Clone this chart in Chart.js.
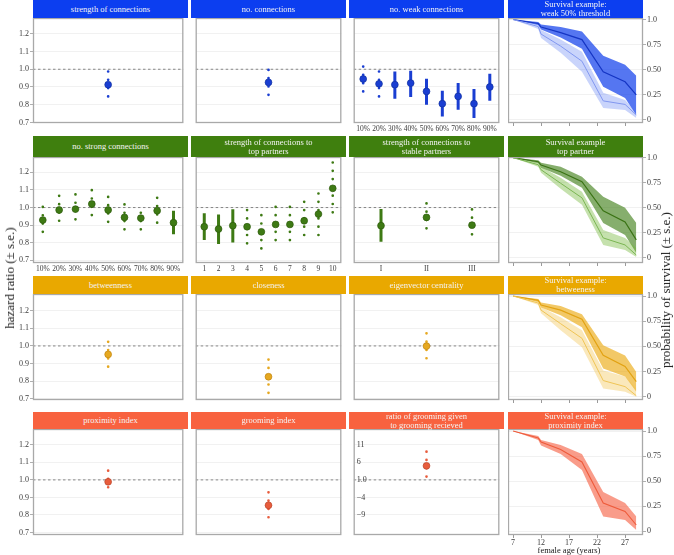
<!DOCTYPE html>
<html><head><meta charset="utf-8">
<script src="https://cdn.jsdelivr.net/npm/chart.js@4.4.0/dist/chart.umd.min.js"></script>
<style>
html,body{margin:0;padding:0;background:#fff;}
#fig{position:relative;width:674px;height:555px;overflow:hidden;font-family:'Liberation Serif','Times New Roman',serif;}
.strip{position:absolute;display:flex;align-items:center;justify-content:center;text-align:center;color:#f4f4f4;font-size:8.5px;line-height:9px;z-index:2;white-space:pre-line;}
.lab{position:absolute;white-space:nowrap;color:#1a1a1a;z-index:3;}
canvas{position:absolute;z-index:1;}
</style></head>
<body><div id="fig"></div>
<script>
// ================= DATA =================
// hazard ratio panels: estimate, lower / upper (± s.e.), solid (1) vs dotted (0) range
const strengthCats = ['']; const strengthEst = [0.913]; const strengthLo = [0.847]; const strengthHi = [0.988]; const strengthSolid = [0];
const connCats = [''];     const connEst = [0.926];     const connLo = [0.856];     const connHi = [0.998];     const connSolid = [0];
const weakCats = ['10%','20%','30%','40%','50%','60%','70%','80%','90%'];
const weakEst = [0.945,0.918,0.913,0.922,0.875,0.806,0.847,0.806,0.900];
const weakLo  = [0.875,0.847,0.834,0.843,0.800,0.734,0.772,0.725,0.823];
const weakHi  = [1.020,0.993,0.988,0.992,0.946,0.879,0.922,0.888,0.975];
const weakSolid = [0,0,1,1,1,1,1,1,1];

const strongCats = ['10%','20%','30%','40%','50%','60%','70%','80%','90%'];
const strongEst = [0.929,0.986,0.991,1.020,0.986,0.944,0.940,0.982,0.914];
const strongLo  = [0.862,0.925,0.933,0.957,0.919,0.876,0.876,0.914,0.848];
const strongHi  = [1.005,1.071,1.077,1.100,1.061,1.020,1.014,1.056,0.982];
const strongSolid = [0,0,0,0,0,0,0,0,1];

const topCats = ['1','2','3','4','5','6','7','8','9','10'];
const topEst = [0.891,0.878,0.897,0.891,0.862,0.904,0.904,0.925,0.963,1.109];
const topLo  = [0.815,0.793,0.802,0.797,0.768,0.815,0.815,0.844,0.844,0.973];
const topHi  = [0.967,0.961,0.990,0.986,0.957,1.005,1.005,1.033,1.084,1.260];
const topSolid = [1,1,1,0,0,0,0,0,0,0];

const stableCats = ['I','II','III'];
const stableEst = [0.897,0.944,0.900];
const stableLo  = [0.806,0.882,0.848];
const stableHi  = [0.991,1.027,0.990];
const stableSolid = [1,0,0];

const betwCats = ['']; const betwEst = [0.952]; const betwLo = [0.882]; const betwHi = [1.028]; const betwSolid = [0];
const closeCats = ['']; const closeEst = [0.825]; const closeLo = [0.734]; const closeHi = [0.924]; const closeSolid = [0];
const eigenCats = ['']; const eigenEst = [0.999]; const eigenLo = [0.930]; const eigenHi = [1.075]; const eigenSolid = [0];

const proxCats = ['']; const proxEst = [0.989]; const proxLo = [0.958]; const proxHi = [1.053]; const proxSolid = [0];
const groomCats = ['']; const groomEst = [0.855]; const groomLo = [0.787]; const groomHi = [0.930]; const groomSolid = [0];
const ratioCats = ['']; const ratioEst = [1.080]; const ratioLo = [1.019]; const ratioHi = [1.162]; const ratioSolid = [0];

// tick labels
const hazardTicks = [0.7,0.8,0.9,1.0,1.1,1.2];
const ratioTickValues = [0.8,0.9,1.0,1.1,1.2];
const ratioTickLabels = ['\u22129','\u22124','1.0','6','11'];
const survTicks = [0,0.25,0.5,0.75,1];
const survTickLabels = ['0','0.25','0.50','0.75','1.0'];
const ageTicks = [7,12,17,22,27];

// survival examples (female age in years)
const ages = [7, 11.5, 12, 15.5, 19.3, 23.1, 27, 29];
const weakSurvHigh      = [1.0,0.960,0.925,0.870,0.800,0.480,0.380,0.250];
const weakSurvHighUpper = [1.0,0.975,0.950,0.925,0.880,0.640,0.550,0.440];
const weakSurvHighLower = [1.0,0.945,0.900,0.820,0.710,0.330,0.220,0.050];
const weakSurvLow       = [1.0,0.930,0.855,0.735,0.585,0.190,0.155,0.050];
const weakSurvLowUpper  = [1.0,0.955,0.895,0.800,0.680,0.270,0.200,0.080];
const weakSurvLowLower  = [1.0,0.905,0.815,0.670,0.480,0.120,0.100,0.020];

const topSurvHigh      = [1.0,0.960,0.927,0.860,0.760,0.470,0.360,0.180];
const topSurvHighUpper = [1.0,0.975,0.950,0.910,0.810,0.610,0.500,0.350];
const topSurvHighLower = [1.0,0.945,0.900,0.820,0.700,0.350,0.230,0.050];
const topSurvLow       = [1.0,0.930,0.880,0.745,0.600,0.200,0.130,0.030];
const topSurvLowUpper  = [1.0,0.950,0.910,0.800,0.660,0.280,0.200,0.100];
const topSurvLowLower  = [1.0,0.910,0.850,0.690,0.530,0.130,0.080,0.010];

const betwSurvHigh      = [1.0,0.957,0.910,0.860,0.770,0.410,0.300,0.150];
const betwSurvHighUpper = [1.0,0.970,0.935,0.900,0.820,0.510,0.410,0.245];
const betwSurvHighLower = [1.0,0.940,0.885,0.810,0.690,0.280,0.200,0.050];
const betwSurvLow       = [1.0,0.930,0.860,0.725,0.580,0.160,0.100,0.010];
const betwSurvLowUpper  = [1.0,0.950,0.890,0.790,0.660,0.260,0.200,0.080];
const betwSurvLowLower  = [1.0,0.910,0.830,0.660,0.490,0.080,0.050,0.000];

const proxSurv      = [1.0,0.930,0.890,0.815,0.690,0.280,0.195,0.060];
const proxSurvUpper = [1.0,0.950,0.910,0.860,0.770,0.390,0.280,0.145];
const proxSurvLower = [1.0,0.910,0.855,0.770,0.610,0.145,0.110,0.010];

// ================= LAYOUT / STYLE =================
const fig = document.getElementById('fig');
const ROWS = [{top:18,h:105},{top:157,h:106},{top:294,h:106},{top:429,h:106}];
const COLS = [{left:33,w:155},{left:191,w:155},{left:349,w:155},{left:508,w:135}];
const STRIPS = [{top:0,h:18},{top:136,h:21},{top:276,h:18},{top:412,h:17}];
const HZ_RANGE = [[0.697,1.289],[0.685,1.287],[0.693,1.295],[0.686,1.290]];
const SV_RANGE = [[-0.03,1.015],[-0.05,1.007],[-0.033,1.02],[-0.04,1.02]];
const PADT = 8, PADB = 6;

const PAL = {
  blue:  {strip:'#0c3ef0', pt:'#1a3ed2', ptB:'#10309f'},
  green: {strip:'#3f7f0e', pt:'#3e7a14', ptB:'#2c5a0c'},
  gold:  {strip:'#e9a800', pt:'#e6a820', ptB:'#c08410'},
  red:   {strip:'#f8623f', pt:'#e85c3c', ptB:'#b8442a'}
};

Chart.defaults.font.family = "'Liberation Serif','Times New Roman',serif";
Chart.defaults.animation = false;
Chart.defaults.plugins.legend.display = false;
Chart.defaults.plugins.tooltip.enabled = false;
Chart.defaults.events = [];

const borderPlugin = {
  id:'panelBorder',
  afterDraw(chart){
    const a = chart.chartArea, ctx = chart.ctx;
    ctx.save(); ctx.strokeStyle = '#a9a9a9'; ctx.lineWidth = 1.3;
    ctx.strokeRect(a.left+0.5, a.top+0.5, a.right-a.left-1, a.bottom-a.top-1);
    ctx.restore();
  }
};

function fixY(w){ return s => { s.width = w; s.paddingTop = 0; s.paddingBottom = 0; s.paddingLeft = 0; s.paddingRight = 0; }; }
function fixX(h){ return s => { s.height = h; s.paddingTop = 0; s.paddingBottom = 0; s.paddingLeft = 0; s.paddingRight = 0; }; }

function makeCanvas(left, top, w, h){
  const c = document.createElement('canvas');
  c.width = w; c.height = h;
  c.style.left = left+'px'; c.style.top = top+'px';
  c.style.width = w+'px'; c.style.height = h+'px';
  fig.appendChild(c);
  return c;
}

function strip(r, c, text, color){
  const d = document.createElement('div');
  d.className = 'strip';
  d.style.left = COLS[c].left+'px'; d.style.width = COLS[c].w+'px';
  d.style.top = STRIPS[r].top+'px'; d.style.height = STRIPS[r].h+'px';
  d.style.background = color;
  d.textContent = text;
  fig.appendChild(d);
}

function hazardChart(r, c, cats, est, lo, hi, solid, pal, xLabels, mirror){
  const yW = c === 0 ? 33 : 0;
  const xH = xLabels ? 13 : 0;
  const G = COLS[c], R = ROWS[r];
  const W = G.w + yW, H = PADT + R.h + xH + PADB;
  const cv = makeCanvas(G.left - yW, R.top - PADT, W, H);
  const n = est.length;
  const datasets = [];
  datasets.push({data: est.map((v,i)=>({x:i+1, y:v})), showLine:false, pointRadius:3.4,
    pointBackgroundColor: pal.pt, pointBorderColor: pal.ptB, pointBorderWidth: 0.7});
  est.forEach((v,i)=>{
    datasets.push({data:[{x:i+1,y:lo[i]},{x:i+1,y:hi[i]}], showLine:true, pointRadius:0,
      borderColor: pal.pt, borderWidth: solid[i] ? 3 : 2.7,
      borderDash: solid[i] ? [] : [0, 8.3], borderCapStyle: solid[i] ? 'butt' : 'round', fill:false});
  });
  datasets.push({data:[{x:0.4,y:1},{x:n+0.6,y:1}], showLine:true, pointRadius:0,
    borderColor:'#6a6a6a', borderWidth:0.8, borderDash:[2.5,2.5], fill:false});
  const tickVals = mirror ? ratioTickValues : hazardTicks;
  new Chart(cv, {
    type:'line',
    data:{datasets},
    options:{
      responsive:false, maintainAspectRatio:false,
      layout:{padding:{top:PADT, bottom:PADB, left:0, right:0}},
      scales:{
        x:{type:'linear', min:0.4, max:n+0.6,
          afterBuildTicks: s => { s.ticks = xLabels ? cats.map((_,i)=>({value:i+1})) : []; },
          ticks:{display:!!xLabels, autoSkip:false, maxRotation:0, padding:2, font:{size:7.5}, color:'#3a3a3a',
            callback: v => cats[Math.round(v)-1]},
          grid:{display:false, drawTicks:false}, border:{display:false}, afterFit: fixX(xH)},
        y:{type:'linear', position:'left', min:HZ_RANGE[r][0], max:HZ_RANGE[r][1],
          afterBuildTicks: s => { s.ticks = tickVals.map(v=>({value:v})); },
          ticks:{display: c === 0 || !!mirror, mirror: !!mirror, padding: mirror ? 3 : 1, font:{size:8}, color:'#3a3a3a',
            callback: v => mirror ? ratioTickLabels[ratioTickValues.findIndex(t=>Math.abs(t-v)<1e-6)] : v.toFixed(1)},
          grid:{color:'#eeeeee', lineWidth:0.8, drawTicks: c === 0, tickLength:3, tickColor:'#9a9a9a'},
          border:{display:false}, afterFit: fixY(yW)}
      }
    },
    plugins:[borderPlugin]
  });
}

function survChart(r, curves){
  const xH = r === 3 ? 13 : 4;
  const G = COLS[3], R = ROWS[r];
  const yW = 30;
  const W = G.w + yW, H = PADT + R.h + xH + PADB;
  const cv = makeCanvas(G.left, R.top - PADT, W, H);
  const datasets = [];
  curves.forEach(k => {
    datasets.push({data: ages.map((a,i)=>({x:a, y:k.mid[i]})), showLine:true, pointRadius:0,
      borderColor:k.line, borderWidth:k.lw, fill:false});
  });
  curves.forEach(k => {
    datasets.push({data: ages.map((a,i)=>({x:a, y:k.up[i]})), showLine:true, pointRadius:0,
      borderWidth:0, borderColor:'rgba(0,0,0,0)', backgroundColor:k.band, fill:'+1'});
    datasets.push({data: ages.map((a,i)=>({x:a, y:k.low[i]})), showLine:true, pointRadius:0,
      borderWidth:0, borderColor:'rgba(0,0,0,0)', fill:false});
  });
  new Chart(cv, {
    type:'line',
    data:{datasets},
    options:{
      responsive:false, maintainAspectRatio:false,
      layout:{padding:{top:PADT, bottom:PADB, left:0, right:0}},
      scales:{
        x:{type:'linear', min:6.1, max:30.2,
          afterBuildTicks: s => { s.ticks = ageTicks.map(v=>({value:v})); },
          ticks:{display: r === 3, autoSkip:false, maxRotation:0, padding:0, font:{size:8}, color:'#3a3a3a'},
          grid:{drawOnChartArea:false, drawTicks:true, tickLength:3, tickColor:'#9a9a9a'},
          border:{display:false}, afterFit: fixX(xH)},
        y:{type:'linear', position:'right', min:SV_RANGE[r][0], max:SV_RANGE[r][1],
          afterBuildTicks: s => { s.ticks = survTicks.map(v=>({value:v})); },
          ticks:{padding:1, font:{size:8}, color:'#3a3a3a',
            callback: v => survTickLabels[survTicks.findIndex(t=>Math.abs(t-v)<1e-6)]},
          grid:{color:'#eeeeee', lineWidth:0.8, drawTicks:true, tickLength:3, tickColor:'#9a9a9a'},
          border:{display:false}, afterFit: fixY(yW)}
      }
    },
    plugins:[borderPlugin]
  });
}

// ================= PANELS =================
// row 1 (blue)
hazardChart(0,0,strengthCats,strengthEst,strengthLo,strengthHi,strengthSolid,PAL.blue,false,false);
hazardChart(0,1,connCats,connEst,connLo,connHi,connSolid,PAL.blue,false,false);
hazardChart(0,2,weakCats,weakEst,weakLo,weakHi,weakSolid,PAL.blue,true,false);
survChart(0,[
  {mid:weakSurvLow, up:weakSurvLowUpper, low:weakSurvLowLower, band:'rgba(60,100,240,0.28)', line:'#8197f0', lw:1},
  {mid:weakSurvHigh, up:weakSurvHighUpper, low:weakSurvHighLower, band:'rgba(20,65,235,0.72)', line:'#1535c4', lw:1.2}
]);
// row 2 (green)
hazardChart(1,0,strongCats,strongEst,strongLo,strongHi,strongSolid,PAL.green,true,false);
hazardChart(1,1,topCats,topEst,topLo,topHi,topSolid,PAL.green,true,false);
hazardChart(1,2,stableCats,stableEst,stableLo,stableHi,stableSolid,PAL.green,true,false);
survChart(1,[
  {mid:topSurvLow, up:topSurvLowUpper, low:topSurvLowLower, band:'rgba(110,180,50,0.4)', line:'#7ab552', lw:1},
  {mid:topSurvHigh, up:topSurvHighUpper, low:topSurvHighLower, band:'rgba(60,125,20,0.62)', line:'#3a7314', lw:1.2}
]);
// row 3 (gold)
hazardChart(2,0,betwCats,betwEst,betwLo,betwHi,betwSolid,PAL.gold,false,false);
hazardChart(2,1,closeCats,closeEst,closeLo,closeHi,closeSolid,PAL.gold,false,false);
hazardChart(2,2,eigenCats,eigenEst,eigenLo,eigenHi,eigenSolid,PAL.gold,false,false);
survChart(2,[
  {mid:betwSurvLow, up:betwSurvLowUpper, low:betwSurvLowLower, band:'rgba(240,190,60,0.35)', line:'#efc455', lw:1},
  {mid:betwSurvHigh, up:betwSurvHighUpper, low:betwSurvHighLower, band:'rgba(235,170,20,0.65)', line:'#e2a212', lw:1.2}
]);
// row 4 (red)
hazardChart(3,0,proxCats,proxEst,proxLo,proxHi,proxSolid,PAL.red,false,false);
hazardChart(3,1,groomCats,groomEst,groomLo,groomHi,groomSolid,PAL.red,false,false);
hazardChart(3,2,ratioCats,ratioEst,ratioLo,ratioHi,ratioSolid,PAL.red,false,true);
survChart(3,[
  {mid:proxSurv, up:proxSurvUpper, low:proxSurvLower, band:'rgba(245,90,60,0.6)', line:'#ee5b3b', lw:1.1}
]);

// strips
strip(0,0,'strength of connections',PAL.blue.strip);
strip(0,1,'no. connections',PAL.blue.strip);
strip(0,2,'no. weak connections',PAL.blue.strip);
strip(0,3,'Survival example:\nweak 50% threshold',PAL.blue.strip);
strip(1,0,'no. strong connections',PAL.green.strip);
strip(1,1,'strength of connections to\ntop partners',PAL.green.strip);
strip(1,2,'strength of connections to\nstable partners',PAL.green.strip);
strip(1,3,'Survival example\ntop partner',PAL.green.strip);
strip(2,0,'betweenness',PAL.gold.strip);
strip(2,1,'closeness',PAL.gold.strip);
strip(2,2,'eigenvector centrality',PAL.gold.strip);
strip(2,3,'Survival example:\nbetweeness',PAL.gold.strip);
strip(3,0,'proximity index',PAL.red.strip);
strip(3,1,'grooming index',PAL.red.strip);
strip(3,2,'ratio of grooming given\nto grooming recieved',PAL.red.strip);
strip(3,3,'Survival example:\nproximity index',PAL.red.strip);

// axis titles
function label(text, cx, cy, size, rot){
  const d = document.createElement('div');
  d.className = 'lab';
  d.textContent = text;
  d.style.fontSize = size+'px';
  d.style.left = cx+'px'; d.style.top = cy+'px';
  d.style.transform = 'translate(-50%,-50%)' + (rot ? ' rotate('+rot+'deg)' : '');
  fig.appendChild(d);
}
label('hazard ratio (\u00b1 s.e.)', 10, 278, 13, -90);
label('probability of survival (\u00b1 s.e.)', 666, 290, 13, -90);
label('female age (years)', 569, 550, 8.5, 0);
</script>
</body></html>
